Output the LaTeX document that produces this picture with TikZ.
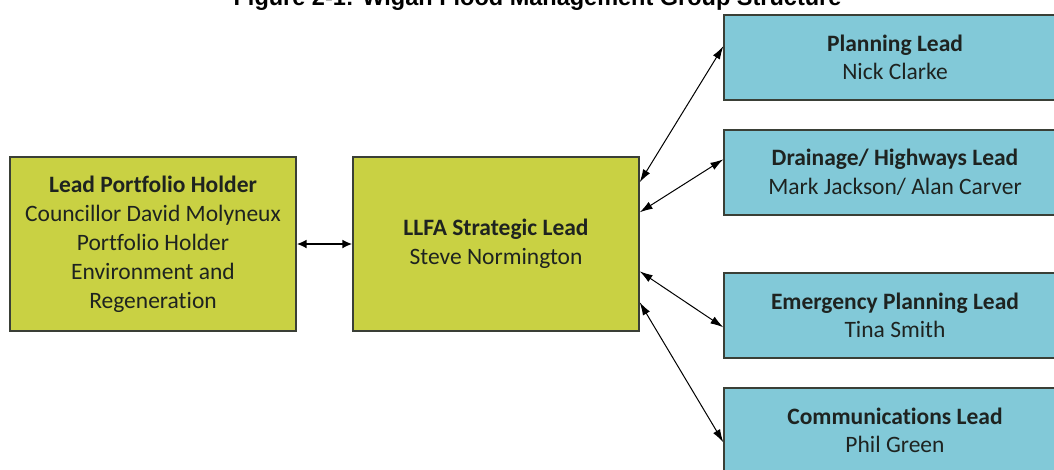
\documentclass[tikz,border=0pt]{standalone}
\usepackage{fontspec}
\setmainfont{Carlito}[Ligatures=NoCommon]
\newfontfamily\titlefont{Liberation Sans}
\usetikzlibrary{arrows.meta}
\definecolor{gfill}{HTML}{C9D143}
\definecolor{bfill}{HTML}{82C9D8}
\definecolor{edge}{HTML}{3A3F36}
\definecolor{txt}{HTML}{1E2320}
\tikzset{
  gbox/.style={draw=edge, line width=1.4pt, fill=gfill, text=txt, align=center, inner sep=0pt,
    font=\fontsize{23.5}{29}\selectfont, minimum width=286pt, minimum height=174pt},
  bbox/.style={draw=edge, line width=1.4pt, fill=bfill, text=txt, align=center, inner sep=0pt,
    font=\fontsize{23.5}{28.5}\selectfont, minimum width=342pt, minimum height=85pt},
  thinarrow/.style={line width=1pt, draw=black, {Latex[length=13pt,width=8pt]}-{Latex[length=13pt,width=8pt]}},
  thickarrow/.style={line width=1.8pt, draw=black, {Latex[length=10pt,width=9pt]}-{Latex[length=10pt,width=9pt]}}
}
\begin{document}
\begin{tikzpicture}[x=1pt,y=-1pt]
\useasboundingbox (0,0) rectangle (1054,469);
\clip (0,0) rectangle (1054,469);
\fill[white] (0,0) rectangle (1054,469);
\node[font=\titlefont\bfseries\fontsize{23.5}{26}\selectfont, anchor=base] (title) at (537.5,5) {Figure 2-1: Wigan Flood Management Group Structure};
\node[gbox] (lp) at (153,244) {\textbf{Lead Portfolio Holder}\\Councillor David Molyneux\\Portfolio Holder\\Environment and\\Regeneration};
\node[gbox] (sl) at (496,244) {\textbf{LLFA Strategic Lead}\\Steve Normington};
\node[bbox] (pl) at (895,57.5) {\textbf{Planning Lead}\\Nick Clarke};
\node[bbox] (dl) at (895,172.5) {\textbf{Drainage/ Highways Lead}\\Mark Jackson/ Alan Carver};
\node[bbox] (el) at (895,315.5) {\textbf{Emergency Planning Lead}\\Tina Smith};
\node[bbox] (cl) at (895,430.5) {\textbf{Communications Lead}\\Phil Green};
\draw[thickarrow] (lp.east) -- (sl.west);
\draw[thinarrow] ([yshift=-26pt]sl.north east) -- ([yshift=-32pt]pl.north west);
\draw[thinarrow] ([yshift=-56pt]sl.north east) -- ([yshift=-30pt]dl.north west);
\draw[thinarrow] ([yshift=-115pt]sl.north east) -- ([yshift=-55pt]el.north west);
\draw[thinarrow] ([yshift=-146pt]sl.north east) -- ([yshift=-55pt]cl.north west);
\end{tikzpicture}
\end{document}
